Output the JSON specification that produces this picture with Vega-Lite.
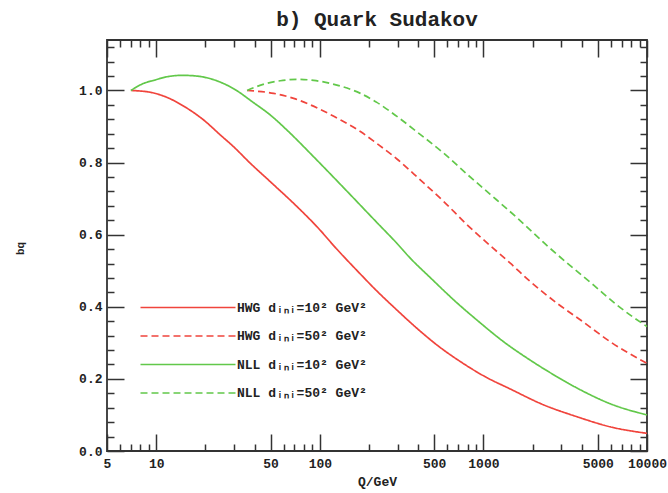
{
  "$schema": "https://vega.github.io/schema/vega-lite/v6.json",
  "width": 540,
  "height": 411,
  "autosize": {"type": "none"},
  "padding": {"left": 107, "top": 40, "right": 21, "bottom": 42},
  "title": {"text": "b) Quark Sudakov", "font": "Liberation Mono", "fontSize": 21, "fontWeight": "bold", "anchor": "middle", "offset": 9, "color": "#222"},
  "config": {
    "view": {"stroke": "#333", "strokeWidth": 1.8},
    "axis": {"grid": false, "domain": false, "labelFont": "Liberation Mono", "labelFontSize": 13, "labelFontWeight": "bold", "labelColor": "#222", "titleFont": "Liberation Mono", "titleFontSize": 13, "titleFontWeight": "bold", "titleColor": "#222", "tickColor": "#333", "tickWidth": 1.5, "labelFlush": false, "labelOverlap": false}
  },
  "data": {"values": [
    {"series": "HWG dᵢₙᵢ=10² GeV²", "Q": 7.0, "b": 1.0},
    {"series": "HWG dᵢₙᵢ=10² GeV²", "Q": 9.2, "b": 0.995},
    {"series": "HWG dᵢₙᵢ=10² GeV²", "Q": 11.6, "b": 0.981},
    {"series": "HWG dᵢₙᵢ=10² GeV²", "Q": 15.4, "b": 0.951},
    {"series": "HWG dᵢₙᵢ=10² GeV²", "Q": 19.5, "b": 0.918},
    {"series": "HWG dᵢₙᵢ=10² GeV²", "Q": 24.6, "b": 0.877},
    {"series": "HWG dᵢₙᵢ=10² GeV²", "Q": 29.7, "b": 0.844},
    {"series": "HWG dᵢₙᵢ=10² GeV²", "Q": 37.6, "b": 0.798},
    {"series": "HWG dᵢₙᵢ=10² GeV²", "Q": 49.8, "b": 0.747},
    {"series": "HWG dᵢₙᵢ=10² GeV²", "Q": 72.5, "b": 0.678},
    {"series": "HWG dᵢₙᵢ=10² GeV²", "Q": 96.1, "b": 0.622},
    {"series": "HWG dᵢₙᵢ=10² GeV²", "Q": 127, "b": 0.560},
    {"series": "HWG dᵢₙᵢ=10² GeV²", "Q": 170, "b": 0.499},
    {"series": "HWG dᵢₙᵢ=10² GeV²", "Q": 223, "b": 0.444},
    {"series": "HWG dᵢₙᵢ=10² GeV²", "Q": 296, "b": 0.391},
    {"series": "HWG dᵢₙᵢ=10² GeV²", "Q": 393, "b": 0.340},
    {"series": "HWG dᵢₙᵢ=10² GeV²", "Q": 520, "b": 0.294},
    {"series": "HWG dᵢₙᵢ=10² GeV²", "Q": 723, "b": 0.248},
    {"series": "HWG dᵢₙᵢ=10² GeV²", "Q": 1026, "b": 0.206},
    {"series": "HWG dᵢₙᵢ=10² GeV²", "Q": 1459, "b": 0.172},
    {"series": "HWG dᵢₙᵢ=10² GeV²", "Q": 2333, "b": 0.128},
    {"series": "HWG dᵢₙᵢ=10² GeV²", "Q": 3733, "b": 0.095},
    {"series": "HWG dᵢₙᵢ=10² GeV²", "Q": 5966, "b": 0.067},
    {"series": "HWG dᵢₙᵢ=10² GeV²", "Q": 10000, "b": 0.049},
    {"series": "HWG dᵢₙᵢ=50² GeV²", "Q": 35.9, "b": 1.0},
    {"series": "HWG dᵢₙᵢ=50² GeV²", "Q": 52.2, "b": 0.992},
    {"series": "HWG dᵢₙᵢ=50² GeV²", "Q": 69.2, "b": 0.978},
    {"series": "HWG dᵢₙᵢ=50² GeV²", "Q": 100, "b": 0.948},
    {"series": "HWG dᵢₙᵢ=50² GeV²", "Q": 133, "b": 0.919},
    {"series": "HWG dᵢₙᵢ=50² GeV²", "Q": 177, "b": 0.886},
    {"series": "HWG dᵢₙᵢ=50² GeV²", "Q": 223, "b": 0.853},
    {"series": "HWG dᵢₙᵢ=50² GeV²", "Q": 296, "b": 0.810},
    {"series": "HWG dᵢₙᵢ=50² GeV²", "Q": 411, "b": 0.752},
    {"series": "HWG dᵢₙᵢ=50² GeV²", "Q": 572, "b": 0.692},
    {"series": "HWG dᵢₙᵢ=50² GeV²", "Q": 793, "b": 0.628},
    {"series": "HWG dᵢₙᵢ=50² GeV²", "Q": 1150, "b": 0.562},
    {"series": "HWG dᵢₙᵢ=50² GeV²", "Q": 1459, "b": 0.521},
    {"series": "HWG dᵢₙᵢ=50² GeV²", "Q": 1933, "b": 0.470},
    {"series": "HWG dᵢₙᵢ=50² GeV²", "Q": 2817, "b": 0.410},
    {"series": "HWG dᵢₙᵢ=50² GeV²", "Q": 4100, "b": 0.357},
    {"series": "HWG dᵢₙᵢ=50² GeV²", "Q": 5966, "b": 0.303},
    {"series": "HWG dᵢₙᵢ=50² GeV²", "Q": 10000, "b": 0.243},
    {"series": "NLL dᵢₙᵢ=10² GeV²", "Q": 7.0, "b": 1.0},
    {"series": "NLL dᵢₙᵢ=10² GeV²", "Q": 8.4, "b": 1.020},
    {"series": "NLL dᵢₙᵢ=10² GeV²", "Q": 9.65, "b": 1.028},
    {"series": "NLL dᵢₙᵢ=10² GeV²", "Q": 11.6, "b": 1.038},
    {"series": "NLL dᵢₙᵢ=10² GeV²", "Q": 14.5, "b": 1.042},
    {"series": "NLL dᵢₙᵢ=10² GeV²", "Q": 17.7, "b": 1.040},
    {"series": "NLL dᵢₙᵢ=10² GeV²", "Q": 22.4, "b": 1.030},
    {"series": "NLL dᵢₙᵢ=10² GeV²", "Q": 29.7, "b": 1.005},
    {"series": "NLL dᵢₙᵢ=10² GeV²", "Q": 39.4, "b": 0.966},
    {"series": "NLL dᵢₙᵢ=10² GeV²", "Q": 49.8, "b": 0.932},
    {"series": "NLL dᵢₙᵢ=10² GeV²", "Q": 63.0, "b": 0.890},
    {"series": "NLL dᵢₙᵢ=10² GeV²", "Q": 91.7, "b": 0.816},
    {"series": "NLL dᵢₙᵢ=10² GeV²", "Q": 140, "b": 0.730},
    {"series": "NLL dᵢₙᵢ=10² GeV²", "Q": 223, "b": 0.634},
    {"series": "NLL dᵢₙᵢ=10² GeV²", "Q": 296, "b": 0.576},
    {"series": "NLL dᵢₙᵢ=10² GeV²", "Q": 357, "b": 0.535},
    {"series": "NLL dᵢₙᵢ=10² GeV²", "Q": 473, "b": 0.481},
    {"series": "NLL dᵢₙᵢ=10² GeV²", "Q": 689, "b": 0.411},
    {"series": "NLL dᵢₙᵢ=10² GeV²", "Q": 914, "b": 0.363},
    {"series": "NLL dᵢₙᵢ=10² GeV²", "Q": 1329, "b": 0.303},
    {"series": "NLL dᵢₙᵢ=10² GeV²", "Q": 1933, "b": 0.252},
    {"series": "NLL dᵢₙᵢ=10² GeV²", "Q": 2817, "b": 0.206},
    {"series": "NLL dᵢₙᵢ=10² GeV²", "Q": 4100, "b": 0.165},
    {"series": "NLL dᵢₙᵢ=10² GeV²", "Q": 5966, "b": 0.131},
    {"series": "NLL dᵢₙᵢ=10² GeV²", "Q": 10000, "b": 0.100},
    {"series": "NLL dᵢₙᵢ=50² GeV²", "Q": 35.9, "b": 1.0},
    {"series": "NLL dᵢₙᵢ=50² GeV²", "Q": 47.5, "b": 1.020},
    {"series": "NLL dᵢₙᵢ=50² GeV²", "Q": 57.3, "b": 1.027},
    {"series": "NLL dᵢₙᵢ=50² GeV²", "Q": 73, "b": 1.031},
    {"series": "NLL dᵢₙᵢ=50² GeV²", "Q": 91.7, "b": 1.028},
    {"series": "NLL dᵢₙᵢ=50² GeV²", "Q": 127, "b": 1.015},
    {"series": "NLL dᵢₙᵢ=50² GeV²", "Q": 177, "b": 0.992},
    {"series": "NLL dᵢₙᵢ=50² GeV²", "Q": 223, "b": 0.967},
    {"series": "NLL dᵢₙᵢ=50² GeV²", "Q": 296, "b": 0.928},
    {"series": "NLL dᵢₙᵢ=50² GeV²", "Q": 393, "b": 0.885},
    {"series": "NLL dᵢₙᵢ=50² GeV²", "Q": 572, "b": 0.826},
    {"series": "NLL dᵢₙᵢ=50² GeV²", "Q": 793, "b": 0.768},
    {"series": "NLL dᵢₙᵢ=50² GeV²", "Q": 1101, "b": 0.712},
    {"series": "NLL dᵢₙᵢ=50² GeV²", "Q": 1604, "b": 0.647},
    {"series": "NLL dᵢₙᵢ=50² GeV²", "Q": 2500, "b": 0.566},
    {"series": "NLL dᵢₙᵢ=50² GeV²", "Q": 3397, "b": 0.514},
    {"series": "NLL dᵢₙᵢ=50² GeV²", "Q": 4720, "b": 0.460},
    {"series": "NLL dᵢₙᵢ=50² GeV²", "Q": 6546, "b": 0.405},
    {"series": "NLL dᵢₙᵢ=50² GeV²", "Q": 10000, "b": 0.345}
  ]},
  "layer": [
    {
      "mark": {"type": "line", "strokeWidth": 1.7, "interpolate": "monotone"},
      "encoding": {
        "x": {"field": "Q", "type": "quantitative", "scale": {"type": "log", "domain": [5, 10000]},
          "axis": {"orient": "bottom", "values": [5, 10, 50, 100, 500, 1000, 5000, 10000], "format": "d", "ticks": false, "labelPadding": 6, "title": "Q/GeV", "titlePadding": 5}},
        "y": {"field": "b", "type": "quantitative", "scale": {"domain": [0, 1.14], "nice": false, "zero": false},
          "axis": {"orient": "left", "values": [0, 0.2, 0.4, 0.6, 0.8, 1.0], "format": ".1f", "ticks": false, "labelPadding": 5, "title": "bq", "titleFontSize": 11, "titleX": -87, "titleY": 208, "titleAngle": -90, "titleAlign": "center", "titleBaseline": "middle"}},
        "color": {"field": "series", "type": "nominal",
          "scale": {"domain": ["HWG dᵢₙᵢ=10² GeV²", "HWG dᵢₙᵢ=50² GeV²", "NLL dᵢₙᵢ=10² GeV²", "NLL dᵢₙᵢ=50² GeV²"], "range": ["#f0443c", "#f0443c", "#62c84a", "#62c84a"]},
          "legend": {"orient": "none", "legendX": 117, "legendY": 261, "title": null, "symbolType": "M-18,0H1", "symbolSize": 100, "symbolStrokeWidth": 1.6, "labelFont": "Liberation Mono", "labelFontSize": 13, "labelFontWeight": "bold", "labelColor": "#222", "labelOffset": 0, "labelLimit": 300, "rowPadding": 14.5, "padding": 0}},
        "strokeDash": {"field": "series", "type": "nominal",
          "scale": {"domain": ["HWG dᵢₙᵢ=10² GeV²", "HWG dᵢₙᵢ=50² GeV²", "NLL dᵢₙᵢ=10² GeV²", "NLL dᵢₙᵢ=50² GeV²"], "range": [[1, 0], [7, 4], [1, 0], [7, 4]]},
          "legend": null}
      }
    },
    {
      "mark": {"type": "line", "opacity": 0},
      "encoding": {
        "x": {"field": "Q", "type": "quantitative", "scale": {"type": "log", "domain": [5, 10000]},
          "axis": {"orient": "bottom", "values": [5, 10, 50, 100, 500, 1000, 5000, 10000], "labels": false, "title": null, "tickSize": -17}},
        "y": {"field": "b", "type": "quantitative", "scale": {"domain": [0, 1.14], "nice": false, "zero": false},
          "axis": {"orient": "left", "values": [0, 0.2, 0.4, 0.6, 0.8, 1.0], "labels": false, "title": null, "tickSize": -17}}
      }
    },
    {
      "mark": {"type": "line", "opacity": 0},
      "encoding": {
        "x": {"field": "Q", "type": "quantitative", "scale": {"type": "log", "domain": [5, 10000]},
          "axis": {"orient": "bottom", "values": [6, 7, 8, 9, 20, 30, 40, 60, 70, 80, 90, 200, 300, 400, 600, 700, 800, 900, 2000, 3000, 4000, 6000, 7000, 8000, 9000], "labels": false, "title": null, "tickSize": -7}},
        "y": {"field": "b", "type": "quantitative", "scale": {"domain": [0, 1.14], "nice": false, "zero": false},
          "axis": {"orient": "left", "values": [0.04, 0.08, 0.12, 0.16, 0.24, 0.28, 0.32, 0.36, 0.44, 0.48, 0.52, 0.56, 0.64, 0.68, 0.72, 0.76, 0.84, 0.88, 0.92, 0.96, 1.04, 1.08, 1.12], "labels": false, "title": null, "tickSize": -7}}
      }
    },
    {
      "mark": {"type": "line", "opacity": 0},
      "encoding": {
        "x": {"field": "Q", "type": "quantitative", "scale": {"type": "log", "domain": [5, 10000]},
          "axis": {"orient": "top", "values": [5, 10, 50, 100, 500, 1000, 5000, 10000], "labels": false, "title": null, "tickSize": -17}},
        "y": {"field": "b", "type": "quantitative", "scale": {"domain": [0, 1.14], "nice": false, "zero": false},
          "axis": {"orient": "right", "values": [0, 0.2, 0.4, 0.6, 0.8, 1.0], "labels": false, "title": null, "tickSize": -17}}
      }
    },
    {
      "mark": {"type": "line", "opacity": 0},
      "encoding": {
        "x": {"field": "Q", "type": "quantitative", "scale": {"type": "log", "domain": [5, 10000]},
          "axis": {"orient": "top", "values": [6, 7, 8, 9, 20, 30, 40, 60, 70, 80, 90, 200, 300, 400, 600, 700, 800, 900, 2000, 3000, 4000, 6000, 7000, 8000, 9000], "labels": false, "title": null, "tickSize": -7}},
        "y": {"field": "b", "type": "quantitative", "scale": {"domain": [0, 1.14], "nice": false, "zero": false},
          "axis": {"orient": "right", "values": [0.04, 0.08, 0.12, 0.16, 0.24, 0.28, 0.32, 0.36, 0.44, 0.48, 0.52, 0.56, 0.64, 0.68, 0.72, 0.76, 0.84, 0.88, 0.92, 0.96, 1.04, 1.08, 1.12], "labels": false, "title": null, "tickSize": -7}}
      }
    }
  ],
  "resolve": {"axis": {"x": "independent", "y": "independent"}}
}
